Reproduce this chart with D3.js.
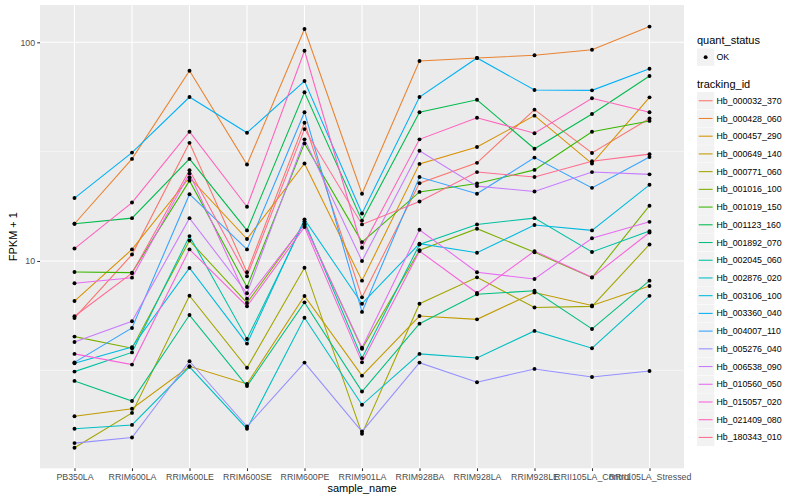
<!DOCTYPE html>
<html><head><meta charset="utf-8">
<script src="https://cdn.jsdelivr.net/npm/d3@7"></script>
<style>
body{margin:0;background:#fff}
text{font-family:"Liberation Sans",Arial,Helvetica,sans-serif}
</style>
</head><body>
<svg id="chart" width="800" height="500"></svg>
<script>
// ---- data (FPKM + 1) ----
const samples = ["PB350LA","RRIM600LA","RRIM600LE","RRIM600SE","RRIM600PE","RRIM901LA","RRIM928BA","RRIM928LA","RRIM928LE","RRII105LA_Control","RRII105LA_Stressed"];
const trackingIds = ["Hb_000032_370","Hb_000428_060","Hb_000457_290","Hb_000649_140","Hb_000771_060","Hb_001016_100","Hb_001019_150","Hb_001123_160","Hb_001892_070","Hb_002045_060","Hb_002876_020","Hb_003106_100","Hb_003360_040","Hb_004007_110","Hb_005276_040","Hb_006538_090","Hb_010560_050","Hb_015057_020","Hb_021409_080","Hb_180343_010"];
const quantStatus = ["OK"];
const yTicks = [10, 100];

const hb_000032_370 = [5.49, 10.7, 34.7, 8.88, 42.9, 6.82, 22.7, 28.1, 49.2, 31.2, 44.8];
const hb_000428_060 = [14.8, 29.3, 74.1, 27.6, 115, 20.3, 82.1, 84.8, 87.2, 92.5, 118];
const hb_000457_290 = [6.56, 11.3, 24.1, 12.6, 27.9, 8.13, 27.8, 33.2, 46.2, 27.9, 56.0];
const hb_000649_140 = [1.95, 2.11, 3.30, 2.74, 6.92, 2.99, 5.60, 5.41, 7.18, 6.26, 7.69];
const hb_000771_060 = [1.40, 2.02, 6.94, 3.25, 9.32, 1.62, 6.38, 8.42, 6.13, 6.20, 11.9];
const hb_001016_100 = [4.51, 3.99, 12.4, 6.43, 14.8, 3.97, 11.2, 14.05, 10.96, 8.40, 17.9];
const hb_001019_150 = [8.90, 8.85, 23.3, 7.61, 34.5, 12.2, 20.7, 22.6, 26.1, 39.0, 43.7];
const hb_001123_160 = [14.8, 15.7, 29.3, 13.8, 59.1, 15.3, 47.9, 54.6, 32.6, 47.0, 70.1];
const hb_001892_070 = [2.83, 2.29, 5.66, 2.68, 6.47, 2.53, 5.17, 7.04, 7.31, 4.89, 8.13];
const hb_002045_060 = [3.12, 3.82, 13.0, 4.40, 15.2, 3.59, 11.9, 14.7, 15.7, 11.0, 13.7];
const hb_002876_020 = [1.71, 1.78, 3.28, 1.71, 5.50, 2.20, 3.76, 3.60, 4.79, 3.99, 6.93];
const hb_003106_100 = [3.41, 4.04, 9.29, 4.19, 15.5, 6.38, 12.0, 10.9, 14.6, 13.8, 22.3];
const hb_003360_040 = [19.4, 31.3, 56.2, 38.6, 66.5, 16.5, 56.2, 84.8, 60.5, 60.3, 75.7];
const hb_004007_110 = [3.44, 4.94, 20.2, 11.3, 47.9, 5.85, 24.2, 20.3, 29.7, 21.6, 29.9];
const hb_005276_040 = [1.47, 1.56, 3.48, 1.75, 3.43, 1.66, 3.43, 2.79, 3.21, 2.95, 3.14];
const hb_006538_090 = [4.26, 5.30, 15.7, 7.12, 36.0, 10.0, 31.9, 22.0, 20.8, 25.5, 24.9];
const hb_010560_050 = [7.91, 8.39, 25.1, 6.72, 14.7, 4.01, 13.9, 8.88, 8.27, 12.7, 15.1];
const hb_015057_020 = [3.76, 3.36, 11.3, 6.21, 14.3, 3.44, 11.1, 7.14, 11.1, 8.42, 13.5];
const hb_021409_080 = [11.4, 18.5, 39.0, 17.7, 91.5, 11.5, 36.0, 45.2, 38.4, 55.5, 47.9];
const hb_180343_010 = [5.59, 8.79, 26.0, 8.51, 40.1, 14.7, 18.7, 25.5, 24.2, 28.6, 30.8];

const seriesValues = [hb_000032_370, hb_000428_060, hb_000457_290, hb_000649_140, hb_000771_060,
  hb_001016_100, hb_001019_150, hb_001123_160, hb_001892_070, hb_002045_060, hb_002876_020,
  hb_003106_100, hb_003360_040, hb_004007_110, hb_005276_040, hb_006538_090, hb_010560_050,
  hb_015057_020, hb_021409_080, hb_180343_010];

// ---- styles ----
const palette = ["#F8766D","#EA8331","#D89000","#C09B00","#A3A500","#7CAE00","#39B600","#00BB4E","#00BF7D","#00C1A3","#00BFC4","#00BAE0","#00B0F6","#35A2FF","#9590FF","#C77CFF","#E76BF3","#FA62DB","#FF62BC","#FF6C91"];

const svg = d3.select("#chart");
const P = {left: 40, right: 684, top: 5, bottom: 468.3};

const x = d3.scalePoint().domain(samples).range([P.left, P.right]).padding(0.6);
const y = d3.scaleLog().domain([1.1274, 148.1]).range([P.bottom, P.top]);

// panel
svg.append("rect").attr("x", P.left).attr("y", P.top)
  .attr("width", P.right - P.left).attr("height", P.bottom - P.top).attr("fill", "#EBEBEB");

// minor grid (midpoints between decades on log scale)
const minor = [Math.sqrt(10), Math.sqrt(1000)];
svg.append("g").selectAll("line").data(minor).join("line")
  .attr("x1", P.left).attr("x2", P.right)
  .attr("y1", d => y(d)).attr("y2", d => y(d))
  .attr("stroke", "#fff").attr("stroke-width", 0.55);
// major grid
svg.append("g").selectAll("line").data(yTicks).join("line")
  .attr("x1", P.left).attr("x2", P.right)
  .attr("y1", d => y(d)).attr("y2", d => y(d))
  .attr("stroke", "#fff").attr("stroke-width", 1.1);
svg.append("g").selectAll("line").data(samples).join("line")
  .attr("x1", d => x(d)).attr("x2", d => x(d))
  .attr("y1", P.top).attr("y2", P.bottom)
  .attr("stroke", "#fff").attr("stroke-width", 1.1);

// axes
const xAxis = d3.axisBottom(x).tickSize(2.75).tickPadding(2.5);
const gx = svg.append("g").attr("transform", `translate(0,${P.bottom})`).call(xAxis);
gx.select(".domain").remove();
gx.selectAll(".tick line").attr("stroke", "#333333").attr("stroke-width", 1.07);
gx.selectAll(".tick text").attr("fill", "#4D4D4D").attr("font-size", "8.8px")
  .attr("font-family", "'Liberation Sans',Arial,sans-serif");

const yAxis = d3.axisLeft(y).tickValues(yTicks).tickFormat(d3.format("d")).tickSize(2.75).tickPadding(2.2);
const gy = svg.append("g").attr("transform", `translate(${P.left},0)`).call(yAxis);
gy.select(".domain").remove();
gy.selectAll(".tick line").attr("stroke", "#333333").attr("stroke-width", 1.07);
gy.selectAll(".tick text").attr("fill", "#4D4D4D").attr("font-size", "8.8px")
  .attr("font-family", "'Liberation Sans',Arial,sans-serif");

// axis titles
svg.append("text").attr("x", (P.left + P.right) / 2).attr("y", 491.5)
  .attr("text-anchor", "middle").attr("font-size", "11px").attr("fill", "#000").text("sample_name");
svg.append("text").attr("transform", `translate(16.5,${(P.top + P.bottom) / 2}) rotate(-90)`)
  .attr("text-anchor", "middle").attr("font-size", "11px").attr("fill", "#000").text("FPKM + 1");

// lines
const line = d3.line().x((d, i) => x(samples[i])).y(d => y(d));
svg.append("g").selectAll("path").data(seriesValues).join("path")
  .attr("d", d => line(d)).attr("fill", "none")
  .attr("stroke", (d, i) => palette[i]).attr("stroke-width", 1.07);

// points
const pts = [];
seriesValues.forEach((vals, s) => vals.forEach((v, i) => pts.push({s: samples[i], v})));
svg.append("g").selectAll("circle").data(pts).join("circle")
  .attr("cx", d => x(d.s)).attr("cy", d => y(d.v)).attr("r", 1.95).attr("fill", "#000");

// legend
const L = svg.append("g");
const lx = 697;
L.append("text").attr("x", lx).attr("y", 43.5).attr("font-size", "11px").text("quant_status");
quantStatus.forEach((q, i) => {
  L.append("rect").attr("x", lx).attr("y", 48.5).attr("width", 17.3).attr("height", 17.3).attr("fill", "#F2F2F2");
  L.append("circle").attr("cx", lx + 8.65).attr("cy", 57.15).attr("r", 1.95).attr("fill", "#000");
  L.append("text").attr("x", lx + 19.5).attr("y", 57.15).attr("dy", "0.35em").attr("font-size", "8.8px").text(q);
});
L.append("text").attr("x", lx).attr("y", 87.5).attr("font-size", "11px").text("tracking_id");
const kStep = 17.72, k0 = 92.1;
const keys = L.selectAll("g.key").data(trackingIds).join("g").attr("class", "key")
  .attr("transform", (d, i) => `translate(${lx},${k0 + i * kStep})`);
keys.append("rect").attr("width", 17.3).attr("height", 17.3).attr("fill", "#F2F2F2");
keys.append("line").attr("x1", 1.7).attr("x2", 15.6).attr("y1", 8.65).attr("y2", 8.65)
  .attr("stroke", (d, i) => palette[i]).attr("stroke-width", 1.07);
keys.append("text").attr("x", 19.5).attr("y", 8.65).attr("dy", "0.35em").attr("font-size", "8.8px").text(d => d);
</script>
</body></html>
